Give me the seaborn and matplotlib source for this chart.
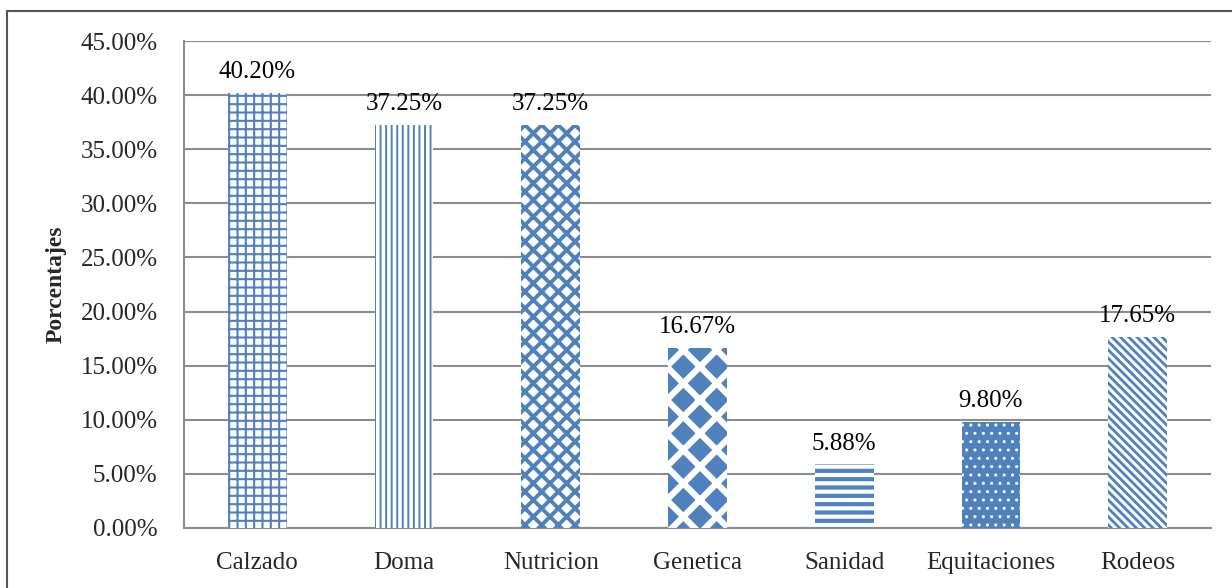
import matplotlib
matplotlib.use("Agg")
import matplotlib.pyplot as plt
import matplotlib.patches as mpatches
import seaborn as sns
import pandas as pd

categories = ["Calzado", "Doma", "Nutricion", "Genetica", "Sanidad", "Equitaciones", "Rodeos"]
values = [40.20, 37.25, 37.25, 16.67, 5.88, 9.80, 17.65]

BLUE = "#4F81BD"
GRID = "#8C8C8C"

# (facecolor, hatch colour, hatch, hatch linewidth)
styles = [
    ("white", BLUE, "++", 1.5),
    ("white", BLUE, "|||", 1.4),
    ("white", BLUE, "xx", 2.8),
    (BLUE, "white", "x", 4.5),
    ("white", BLUE, "--", 3.0),
    (BLUE, "white", "..", 1.0),
    ("white", BLUE, "\\\\\\\\", 2.0),
]

sns.set_style("white")
plt.rcParams["font.family"] = ["Liberation Serif", "DejaVu Serif"]

df = pd.DataFrame({"cat": categories, "val": values})

fig = plt.figure(figsize=(12.32, 5.88), dpi=100)
ax = fig.add_axes([184 / 1232, 1 - 528 / 588, (1211 - 184) / 1232, (528 - 41) / 588])

sns.barplot(data=df, x="cat", y="val", color=BLUE, width=0.4, ax=ax, zorder=3)

for bar, (fc, hc, hatch, hlw) in zip(ax.patches, styles):
    bar.set_facecolor(fc)
    bar.set_edgecolor(hc)
    bar.set_linewidth(0)
    bar.set_hatch(hatch)
    try:
        bar.set_hatch_linewidth(hlw)
    except AttributeError:
        pass

for bar, v in zip(ax.patches, values):
    ax.text(bar.get_x() + bar.get_width() / 2, v + 0.9, f"{v:.2f}%",
            ha="center", va="bottom", fontsize=18, color="black")

ax.set_ylim(0, 45)
ax.set_yticks(range(0, 46, 5))
ax.set_yticklabels([f"{t:.2f}%" for t in range(0, 46, 5)], fontsize=18)
ax.tick_params(axis="x", labelsize=18, length=0, pad=17)
ax.tick_params(axis="y", length=0, pad=19)
ax.set_xlabel("")
ax.set_ylabel("Porcentajes", fontsize=17, fontweight="bold", labelpad=10)

ax.yaxis.grid(True, color=GRID, linewidth=1.5, zorder=0)
ax.set_axisbelow(True)
for s in ["top", "right"]:
    ax.spines[s].set_visible(False)
for s in ["left", "bottom"]:
    ax.spines[s].set_color(GRID)
    ax.spines[s].set_linewidth(1.5)

# outer chart border
fig.patches.append(mpatches.Rectangle((7 / 1232, -0.1), 1.2, 1.1 - 11 / 588,
                                      transform=fig.transFigure, fill=False,
                                      edgecolor="#555555", linewidth=1.5))

fig.savefig("out.png", dpi=100)
